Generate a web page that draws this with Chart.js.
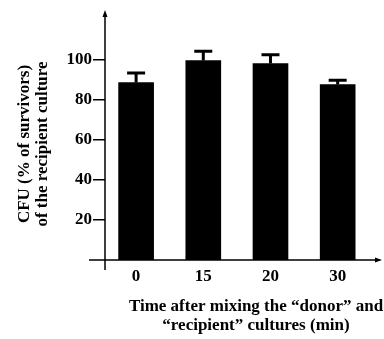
<!DOCTYPE html>
<html>
<head>
<meta charset="utf-8">
<script src="https://cdn.jsdelivr.net/npm/chart.js@4/dist/chart.umd.min.js"></script>
<style>
    body { margin: 0; background: #fff; }
    canvas { display: block; }
</style>
</head>
<body>
<canvas id="chart" width="384" height="339"></canvas>
<script>
// time points (min) and survivor percentages
var timeLabels = ['0', '15', '20', '30'];
var survivors = [88.5, 99.5, 98, 87.5];
var survivorErrors = [4.8, 4.6, 4.4, 2.1];
var yTicks = [20, 40, 60, 80, 100];

var yTitleLines = ['CFU (% of survivors)', 'of the recipient culture'];
var xTitleLines = ['Time after mixing the \u201cdonor\u201d and', '\u201crecipient\u201d cultures (min)'];

var serif = '"Liberation Serif", "Times New Roman", serif';
var tickFont = {family: serif, size: 17, weight: 'bold'};

var arrowHead = function(ctx, x, y, dir) {
    // dir: 'up' or 'right'
    ctx.beginPath();
    if (dir === 'up') {
        ctx.moveTo(x, y);
        ctx.lineTo(x - 2.5, y + 7);
        ctx.lineTo(x + 2.5, y + 7);
    } else {
        ctx.moveTo(x, y);
        ctx.lineTo(x - 7, y - 2.5);
        ctx.lineTo(x - 7, y + 2.5);
    }
    ctx.closePath();
    ctx.fill();
};

var axesPlugin = {
    id: 'axes',
    beforeDatasetsDraw: function(chart) {
        var ctx = chart.ctx;
        var area = chart.chartArea;
        ctx.save();
        ctx.strokeStyle = '#000';
        ctx.fillStyle = '#000';
        ctx.lineWidth = 1.5;
        ctx.beginPath();
        ctx.moveTo(area.left, area.bottom + 10);
        ctx.lineTo(area.left, area.top + 2);
        ctx.moveTo(area.left - 16, area.bottom);
        ctx.lineTo(area.right, area.bottom);
        ctx.stroke();
        arrowHead(ctx, area.left, area.top - 2, 'up');
        arrowHead(ctx, area.right + 2, area.bottom, 'right');
        ctx.restore();
    },
    afterDraw: function(chart) {
        var ctx = chart.ctx;
        ctx.save();
        ctx.fillStyle = '#000';
        ctx.font = 'bold 17px ' + serif;
        ctx.textAlign = 'center';
        ctx.textBaseline = 'alphabetic';

        ctx.fillText(xTitleLines[0], 256, 311);
        ctx.fillText(xTitleLines[1], 256, 330);

        ctx.translate(29, 144);
        ctx.rotate(-Math.PI / 2);
        ctx.fillText(yTitleLines[0], 0, 0);
        ctx.fillText(yTitleLines[1], 0, 17.5);
        ctx.restore();
    }
};

var errorBarPlugin = {
    id: 'errorBars',
    afterDatasetsDraw: function(chart) {
        var ctx = chart.ctx;
        var yScale = chart.scales.y;
        var meta = chart.getDatasetMeta(0);
        ctx.save();
        ctx.strokeStyle = '#000';
        ctx.lineWidth = 3;
        meta.data.forEach(function(bar, i) {
            var top = yScale.getPixelForValue(survivors[i] + survivorErrors[i]);
            ctx.beginPath();
            ctx.moveTo(bar.x, bar.y);
            ctx.lineTo(bar.x, top);
            ctx.moveTo(bar.x - 9, top);
            ctx.lineTo(bar.x + 9, top);
            ctx.stroke();
        });
        ctx.restore();
    }
};

new Chart(document.getElementById('chart'), {
    type: 'bar',
    data: {
        datasets: [{
            data: survivors.map(function(v, i) { return {x: i, y: v}; }),
            backgroundColor: '#000',
            borderWidth: 0,
            barThickness: 35
        }]
    },
    options: {
        responsive: false,
        animation: false,
        devicePixelRatio: 1,
        layout: {padding: {top: 12, right: 4, bottom: 0, left: 0}},
        plugins: {legend: {display: false}, tooltip: {enabled: false}},
        scales: {
            x: {
                type: 'linear',
                offset: false,
                min: -0.463,
                max: 3.63,
                afterBuildTicks: function(scale) {
                    scale.ticks = timeLabels.map(function(t, i) { return {value: i}; });
                },
                afterFit: function(scale) { scale.height = 79; },
                ticks: {
                    font: tickFont,
                    color: '#000',
                    padding: 6,
                    maxRotation: 0,
                    callback: function(value) { return timeLabels[value]; }
                },
                grid: {display: false, drawTicks: false},
                border: {display: false}
            },
            y: {
                min: 0,
                max: 123.7,
                afterBuildTicks: function(scale) {
                    scale.ticks = yTicks.map(function(v) { return {value: v}; });
                },
                afterFit: function(scale) { scale.width = 105; },
                ticks: {font: tickFont, color: '#000', padding: 1},
                grid: {
                    drawOnChartArea: false,
                    drawTicks: true,
                    tickLength: 12,
                    color: '#000',
                    lineWidth: 1.5
                },
                border: {display: false}
            }
        }
    },
    plugins: [axesPlugin, errorBarPlugin]
});
</script>
</body>
</html>
